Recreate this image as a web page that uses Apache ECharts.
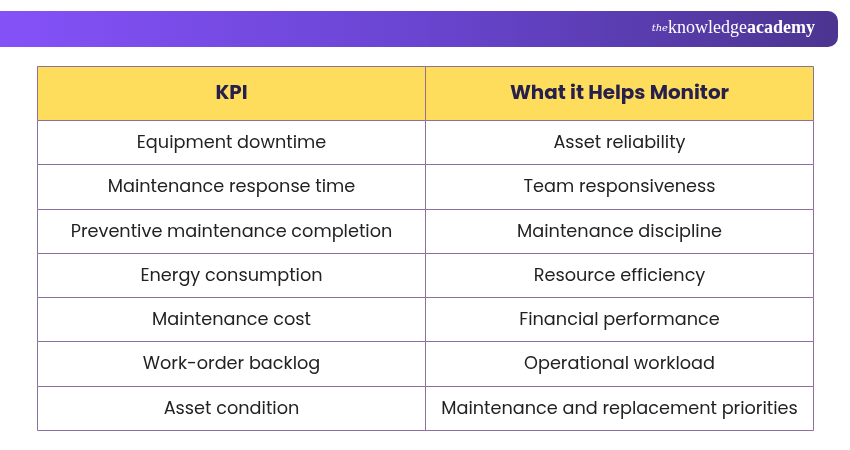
<!DOCTYPE html>
<html><head><meta charset="utf-8">
<script src="https://cdn.jsdelivr.net/npm/echarts@6/dist/echarts.min.js"></script>
<style>html,body{margin:0;padding:0;background:#fff}#c{width:850px;height:450px}</style>
</head><body><div id="c"></div>
<script>
const headers = ['KPI', 'What it Helps Monitor'];
const kpis = ['Equipment downtime','Maintenance response time','Preventive maintenance completion','Energy consumption','Maintenance cost','Work-order backlog','Asset condition'];
const monitors = ['Asset reliability','Team responsiveness','Maintenance discipline','Resource efficiency','Financial performance','Operational workload','Maintenance and replacement priorities'];

const FONT = 'Poppins, Inter, "Open Sans", sans-serif';
const BORDER = '#8c6f9c';

const bodyData = [];
kpis.forEach((k,i)=>{ bodyData.push([0,i,k]); bodyData.push([1,i,monitors[i]]); });
const headData = headers.map((h,i)=>[i,0,h]);

function cellRenderer(fill, textStyle){
  return function(params, api){
    const c = api.value(0), r = api.value(1);
    const p0 = api.coord([c, r]); const p1 = api.coord([c+1, r+1]);
    const x = Math.round(p0[0])+0.5, y = Math.round(p0[1])+0.5;
    const w = Math.round(p1[0]) - Math.round(p0[0]), h = Math.round(p1[1]) - Math.round(p0[1]);
    return {type:'group', children:[
      {type:'rect', shape:{x, y, width:w, height:h}, style:{fill, stroke:BORDER, lineWidth:1}},
      {type:'text', x:x+w/2, y:y+h/2+1, style:Object.assign({text:api.value(2), align:'center', verticalAlign:'middle', fontFamily:FONT}, textStyle)}
    ]};
  };
}

const chart = echarts.init(document.getElementById('c'));
chart.setOption({
  animation:false,
  graphic:[
    {type:'rect', shape:{x:-20, y:11, width:858, height:36, r:[0,10,10,0]},
     style:{fill:new echarts.graphic.LinearGradient(0,0,1,0,[{offset:0,color:'#8652fa'},{offset:0.5,color:'#6a45d2'},{offset:1,color:'#4b3590'}])}},
    {type:'text', right:35, top:19, style:{text:'{a|the}{b|knowledge}{c|academy}', rich:{
      a:{fontFamily:'"DejaVu Serif", serif', fontStyle:'italic', fontSize:10, fill:'#fff'},
      b:{fontFamily:'"Liberation Serif", serif', fontSize:18, fill:'#fff'},
      c:{fontFamily:'"Liberation Serif", serif', fontSize:18, fontWeight:'bold', fill:'#fff'}}}}
  ],
  grid:[
    {left:37, right:37, top:66, height:54},
    {left:37, right:37, top:120, height:310}
  ],
  xAxis:[
    {gridIndex:0, type:'value', min:0, max:2, show:false},
    {gridIndex:1, type:'value', min:0, max:2, show:false}
  ],
  yAxis:[
    {gridIndex:0, type:'value', min:0, max:1, inverse:true, show:false},
    {gridIndex:1, type:'value', min:0, max:7, inverse:true, show:false}
  ],
  series:[
    {type:'custom', xAxisIndex:0, yAxisIndex:0, data:headData,
     renderItem:cellRenderer('#ffdd5c', {fontSize:19.9, fontWeight:'bold', fill:'#27204d'})},
    {type:'custom', xAxisIndex:1, yAxisIndex:1, data:bodyData,
     renderItem:cellRenderer('#ffffff', {fontSize:17.7, fill:'#222222'})}
  ]
});
</script></body></html>
